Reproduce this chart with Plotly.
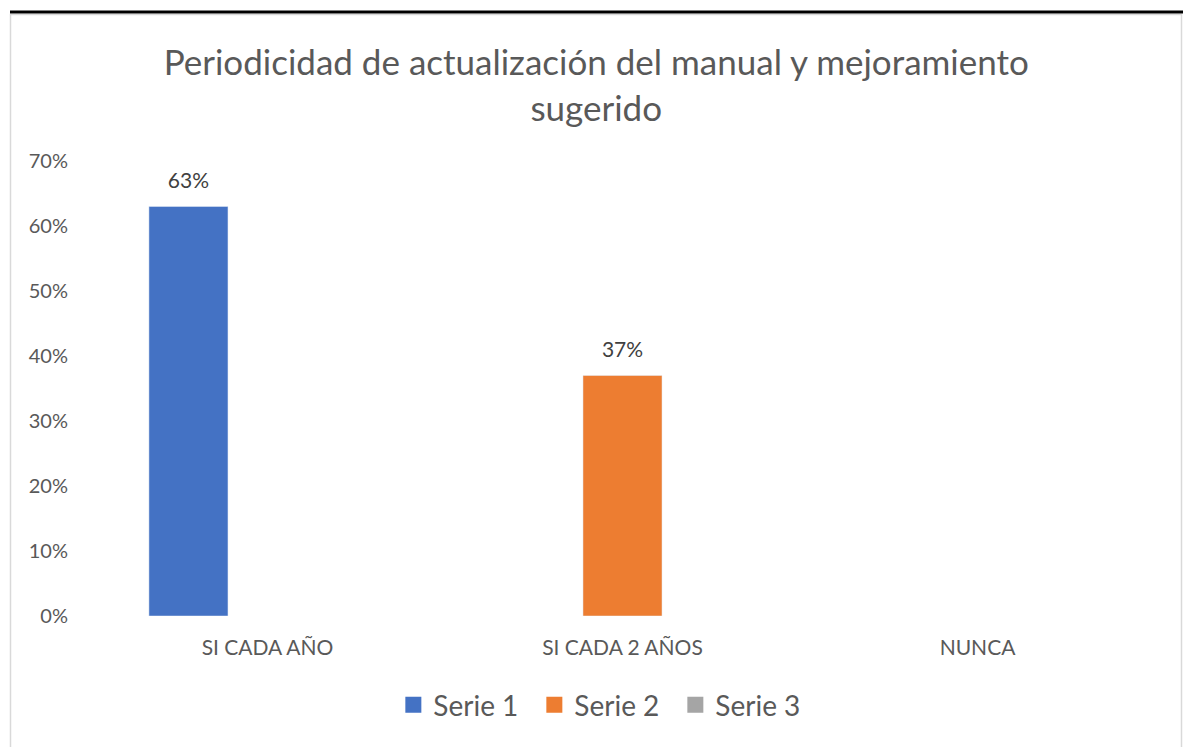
import plotly.graph_objects as go

categories = ["SI CADA AÑO", "SI CADA 2 AÑOS", "NUNCA"]
series_names = ["Serie 1", "Serie 2", "Serie 3"]
serie1 = [0.63, None, None]
serie2 = [None, 0.37, None]
serie3 = [None, None, None]
colors = ["#4472C4", "#ED7D31", "#A5A5A5"]

title_text = "Periodicidad de actualización del manual y mejoramiento<br>sugerido"
FONT = "Lato"

fig = go.Figure()
for i, (name, vals, col) in enumerate(zip(series_names, [serie1, serie2, serie3], colors)):
    fig.add_trace(go.Bar(
        x=categories, y=vals, name=name, marker_color=col,
        offsetgroup=str(i), alignmentgroup="a",
        showlegend=False, hoverinfo="x+y",
    ))
# data labels, grouped the same way as the bars
for i, (name, vals) in enumerate(zip(series_names, [serie1, serie2, serie3])):
    fig.add_trace(go.Scatter(
        x=categories, y=vals, mode="markers+text", orientation="v",
        offsetgroup=str(i), alignmentgroup="a",
        marker=dict(size=19, color="rgba(0,0,0,0)"),
        texttemplate="%{y:.0%}", textposition="top center",
        textfont=dict(family=FONT, size=21, color="#404040"),
        showlegend=False, hoverinfo="skip", cliponaxis=False,
    ))
# legend entries (larger square swatches)
for name, col in zip(series_names, colors):
    fig.add_trace(go.Scatter(
        x=[None], y=[None], mode="markers", name=name,
        marker=dict(symbol="square", size=18, color=col),
        showlegend=True, hoverinfo="skip",
    ))

W, H = 1183, 747
L, R, T, B = 90, 28, 161, 131
pw, ph = W - L - R, H - T - B

def px_x(x):
    return (x - L) / pw

def px_y(y):
    return (H - B - y) / ph

fig.update_layout(
    width=W, height=H,
    margin=dict(l=L, r=R, t=T, b=B, autoexpand=False),
    paper_bgcolor="white", plot_bgcolor="white",
    barmode="group", bargap=0.332, bargroupgap=0,
    scattermode="group", scattergap=0.332,
    title=dict(text=title_text, x=0.504, xanchor="center", xref="container",
               y=1 - 75 / H, yanchor="middle", yref="container",
               font=dict(family=FONT, size=35, color="#595959")),
    font=dict(family=FONT, color="#595959"),
    legend=dict(orientation="h", x=0.3325, xanchor="left", xref="container",
                y=1 - 705 / H, yanchor="middle", yref="container",
                font=dict(family=FONT, size=28, color="#595959"),
                entrywidth=96, traceorder="normal"),
    showlegend=True,
    xaxis=dict(showgrid=False, showline=False, zeroline=False,
               ticks="outside", ticklen=13, tickcolor="rgba(0,0,0,0)",
               tickfont=dict(family=FONT, size=21, color="#595959")),
    yaxis=dict(range=[0, 0.7], dtick=0.1, tickformat=".0%",
               showgrid=False, showline=False, zeroline=False,
               ticks="outside", ticklen=17, tickcolor="rgba(0,0,0,0)",
               tickfont=dict(family=FONT, size=20, color="#595959")),
    shapes=[
        dict(type="rect", xref="paper", yref="paper",
             x0=px_x(10.5), x1=px_x(1181.5), y0=px_y(760), y1=px_y(14.5),
             line=dict(color="#D9D9D9", width=1.5), fillcolor="rgba(0,0,0,0)",
             layer="below"),
        dict(type="line", xref="paper", yref="paper",
             x0=px_x(10), x1=px_x(1183), y0=px_y(12), y1=px_y(12),
             line=dict(color="black", width=3)),
    ],
)

fig.write_html("out.html", config={"displayModeBar": False},
               post_script="document.body.style.margin='0';")
